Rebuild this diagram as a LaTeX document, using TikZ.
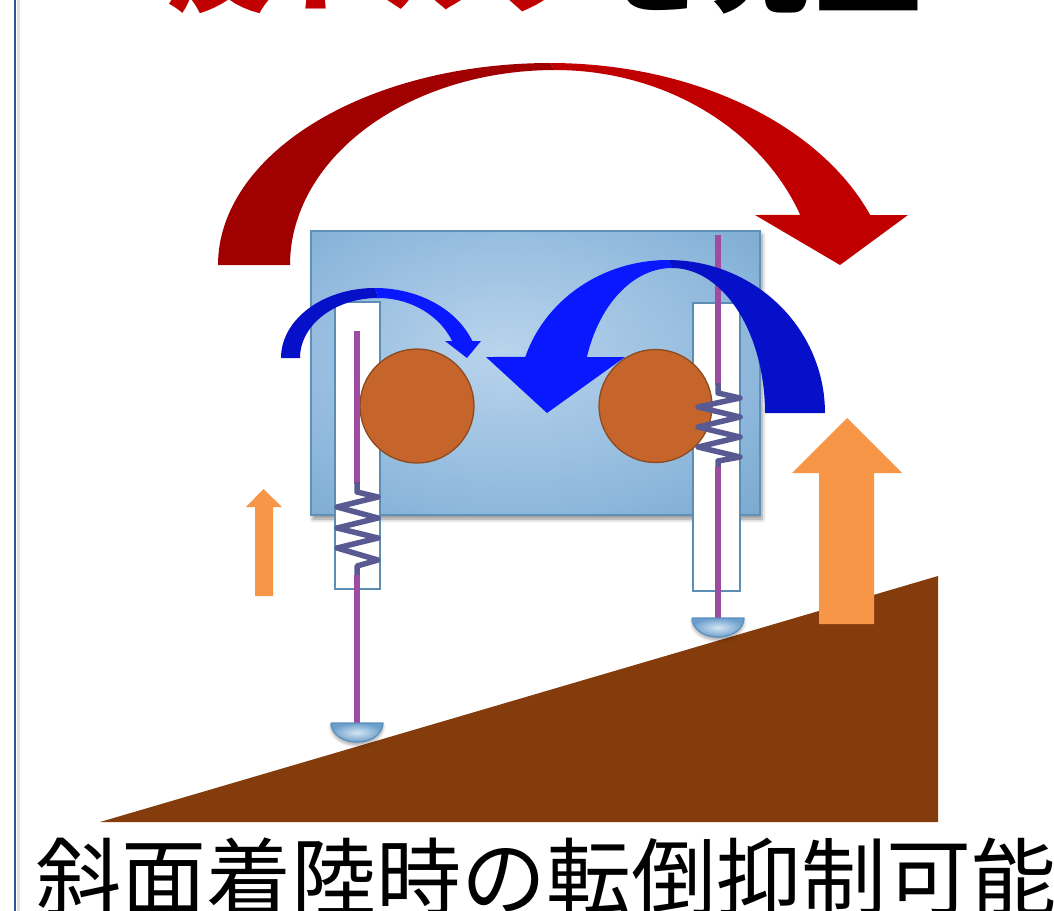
\documentclass[tikz,border=0pt]{standalone}
\usepackage{fontspec}
\newfontfamily\jpfont{Noto Sans CJK JP}
\usetikzlibrary{shadows.blur}

\definecolor{framecol}{HTML}{2F5597}
\definecolor{torquedark}{HTML}{A00000}
\definecolor{torquered}{HTML}{C00000}
\definecolor{soil}{HTML}{843C0C}
\definecolor{lift}{HTML}{F79646}
\definecolor{bodyin}{HTML}{B9D4EC}
\definecolor{bodymid}{HTML}{8CB6DB}
\definecolor{bodyrim}{HTML}{6597C1}
\definecolor{bodyout}{HTML}{5584AC}
\definecolor{bodyedge}{HTML}{5E90B8}
\definecolor{sleeveedge}{HTML}{5B8DB5}
\definecolor{wheel}{HTML}{C5652C}
\definecolor{wheeledge}{HTML}{8E4A1E}
\definecolor{rodcol}{HTML}{A04BA2}
\definecolor{coilcol}{HTML}{595A91}
\definecolor{footin}{HTML}{D3E5F3}
\definecolor{footout}{HTML}{6B9FCB}
\definecolor{footedge}{HTML}{5A8FBE}
\definecolor{spindark}{HTML}{0510C8}
\definecolor{spinlight}{HTML}{0A18FF}

\pgfdeclareradialshading{bodyshade}{\pgfpoint{-4bp}{4bp}}{color(0bp)=(bodyin); color(28bp)=(bodymid); color(52bp)=(bodyrim); color(72bp)=(bodyout)}

\tikzset{
  rod/.style={draw=rodcol, line width=6pt},
  coil/.style={draw=coilcol, line width=5.5pt, line join=round},
  sleeve/.style={draw=sleeveedge, fill=white, line width=1.3pt},
  wheelstyle/.style={draw=wheeledge, fill=wheel, line width=1.3pt},
  footstyle/.style={draw=footedge, line width=1.2pt, inner color=footin, outer color=footout,
    blur shadow={shadow xshift=0pt, shadow yshift=-3pt, shadow blur radius=3pt, shadow opacity=35}},
  liftarrow/.style={fill=lift},
}

\begin{document}
\begin{tikzpicture}[x=1pt,y=-1pt]
\useasboundingbox (0,0) rectangle (1054,910);

% slide frame edge
\draw[black!12, line width=3pt] (18,-2) -- (18,912);
\draw[framecol, line width=2pt] (15,-2) -- (15,912);

% heading (upper part lies above the page)
\node[anchor=base west, inner sep=0pt, font=\jpfont\bfseries\fontsize{108}{108}\selectfont] (heading) at (166,3)
  {\textcolor{torquered}{反トルク}を発生};

% sloped ground
\fill[soil] (100,822) -- (938,576) -- (938,822) -- cycle;

% large reaction torque arrow: rear band, then front band with head
\fill[torquedark] plot[domain=180:90, samples=60] ({550+332*cos(\x)},{265-202*sin(\x)})
  -- plot[domain=90:180, samples=60] ({555+265*cos(\x)},{265-195*sin(\x)}) -- cycle;
\fill[torquered] plot[domain=90:21, samples=60] ({550+343*cos(\x)},{300-237*sin(\x)})
  -- (908,215) -- (840,265) -- (755,215)
  -- plot[domain=21.7:90, samples=60] ({555+264*cos(\x)},{300-230*sin(\x)}) -- cycle;

% upward forces
\fill[liftarrow] (255,596) -- (255,507) -- (246,507) -- (263.5,489) -- (282,507) -- (273,507) -- (273,596) -- cycle;
\fill[liftarrow] (819,624) -- (819,473) -- (792,473) -- (847,418) -- (902,473) -- (874,473) -- (874,624) -- cycle;

% lander body
\path[shading=bodyshade, blur shadow={shadow xshift=2pt, shadow yshift=-4pt, shadow blur radius=4pt, shadow opacity=45}]
  (311,231) rectangle (760,515);
\draw[bodyedge, line width=1.2pt] (311,231) rectangle (760,515);

% leg sleeves
\draw[sleeve] (335,302) rectangle (380,589);
\draw[sleeve] (693,303) rectangle (740,591);

% reaction wheels
\draw[wheelstyle] (417,406) circle[radius=57];
\draw[wheelstyle] (655.5,406) circle[radius=56.5];

% left leg: rod, spring, rod
\draw[rod] (357,331) -- (357,484);
\draw[coil] (357,482) -- (357,492) -- (378,497) -- (337,507) -- (378,518) -- (337,528)
  -- (378,538) -- (337,548) -- (378,560) -- (357,566) -- (357,577);
\draw[rod] (357,575) -- (357,724);

% right leg: rod, spring, rod
\draw[rod] (718,235) -- (718,385);
\draw[coil] (718,383) -- (718,393) -- (740,398) -- (698,407) -- (740,417) -- (698,427)
  -- (740,437) -- (698,447) -- (740,457) -- (718,461) -- (718,469);
\draw[rod] (718,467) -- (718,619);

% footpads
\path[footstyle] (331,723) -- plot[domain=0:180, samples=40] ({357+26*cos(\x)},{723+19*sin(\x)}) -- cycle;
\path[footstyle] (692,618) -- plot[domain=0:180, samples=40] ({718+26*cos(\x)},{618+19*sin(\x)}) -- cycle;

% small wheel spin arrow (left)
\fill[spindark] plot[domain=180:90, samples=40] ({375+94*cos(\x)},{358-70*sin(\x)})
  -- plot[domain=90:180, samples=40] ({378+78*cos(\x)},{358-60*sin(\x)}) -- cycle;
\fill[spinlight] plot[domain=90:20.7, samples=40] ({375+104*cos(\x)},{370-82*sin(\x)})
  -- (481,341) -- (467,358) -- (445,341)
  -- plot[domain=23.75:90, samples=40] ({378+81*cos(\x)},{370-72*sin(\x)}) -- cycle;

% large wheel spin arrow (right)
\fill[spindark] plot[domain=0:90, samples=50] ({668+157*cos(\x)},{413-153*sin(\x)})
  -- plot[domain=90:0, samples=50] ({672+93*cos(\x)},{413-145*sin(\x)}) -- cycle;
\fill[spinlight] plot[domain=90:162.1, samples=50] ({668+150*cos(\x)},{400-140*sin(\x)})
  -- (486,357) -- (547,413) -- (625,357)
  -- plot[domain=161:90, samples=50] ({672+90*cos(\x)},{400-132*sin(\x)}) -- cycle;

% caption (lower part lies below the page)
\node[anchor=base west, inner sep=0pt, font=\jpfont\fontsize{85}{85}\selectfont] (caption) at (36,909)
  {斜面着陸時の転倒抑制可能};
\end{tikzpicture}
\end{document}
